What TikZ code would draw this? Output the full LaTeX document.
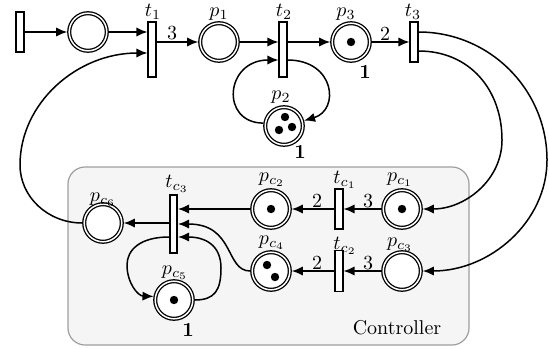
\documentclass[tikz,border=0pt]{standalone}
\usetikzlibrary{arrows.meta,calc}
\begin{document}
\begin{tikzpicture}[x=0.5pt,y=-0.5pt,
  place/.style={circle,draw,double,line width=0.65pt,double distance=0.75pt,fill=white,inner sep=0pt,minimum size=18.8pt,outer sep=1pt},
  trans/.style={rectangle,draw,line width=0.95pt,fill=white,inner sep=0pt,minimum width=3.6pt},
  arc/.style={line width=0.75pt,-{Latex[length=5.5pt,width=4.6pt]}},
  tok/.style={circle,fill,inner sep=0pt,minimum size=4.2pt},
  lbl/.style={inner sep=0pt},
]
\useasboundingbox (0,0) rectangle (549,348);
% controller box
\draw[draw=black!38,fill=black!4,line width=0.6pt,rounded corners=8.5pt] (68,167) rectangle (469,345);
\node[lbl] (ctrl) at (397,328) {Controller};

% plant
\node[trans,minimum height=20pt] (t0) at (20,32) {};
\node[place] (pa) at (88,32) {};
\node[trans,minimum height=27.5pt] (t1) at (152,49.5) {};
\node[place] (p1) at (219,42) {};
\node[trans,minimum height=27.5pt] (t2) at (283,49.5) {};
\node[place] (p3) at (351,42) {};
\node[tok] (k3) at (351,42) {};
\node[trans,minimum height=20pt] (t3) at (414,42) {};
\node[place] (p2) at (284,126) {};
\node[tok] (k2a) at (285,117) {};
\node[tok] (k2b) at (279,130) {};
\node[tok] (k2c) at (292,127) {};

% controller
\node[place] (pc1) at (402,209) {};
\node[tok] (kc1) at (402,209) {};
\node[trans,minimum height=20pt] (tc1) at (339,209) {};
\node[place] (pc2) at (271,209) {};
\node[tok] (kc2) at (271,209) {};
\node[place] (pc3) at (402,271) {};
\node[trans,minimum height=20.5pt] (tc2) at (339,271) {};
\node[place] (pc4) at (271,271) {};
\node[tok] (kc4a) at (267,265) {};
\node[tok] (kc4b) at (275,277) {};
\node[trans,minimum height=29pt] (tc3) at (173.5,224) {};
\node[place] (pc6) at (103,223) {};
\node[place] (pc5) at (174,300) {};
\node[tok] (kc5) at (174,300) {};

% labels
\node[lbl] (lt1) at (153,12) {$t_1$};
\node[lbl] (lp1) at (219,14) {$p_1$};
\node[lbl] (lt2) at (284,12) {$t_2$};
\node[lbl] (lp3) at (346,14) {$p_3$};
\node[lbl] (lt3) at (413,12) {$t_3$};
\node[lbl] (lp2) at (281,97) {$p_2$};
\node[lbl] (m3) at (365,72) {$\mathbf{1}$};
\node[lbl] (m2) at (300,152) {$\mathbf{1}$};
\node[lbl] (w1) at (172,33) {$3$};
\node[lbl] (w3) at (385,34) {$2$};

\node[lbl] (lpc1) at (400,180) {$p_{c_1}$};
\node[lbl] (ltc1) at (345,180) {$t_{c_1}$};
\node[lbl] (lpc2) at (272,180) {$p_{c_2}$};
\node[lbl] (lpc3) at (400,245) {$p_{c_3}$};
\node[lbl] (ltc2) at (345,246) {$t_{c_2}$};
\node[lbl] (lpc4) at (272,243) {$p_{c_4}$};
\node[lbl] (ltc3) at (177,184) {$t_{c_3}$};
\node[lbl] (lpc6) at (103,200) {$p_{c_6}$};
\node[lbl] (lpc5) at (175,273) {$p_{c_5}$};
\node[lbl] (m5) at (188,330) {$\mathbf{1}$};
\node[lbl] (wc1) at (368,201) {$3$};
\node[lbl] (wc2) at (317,201) {$2$};
\node[lbl] (wc3) at (368,263) {$3$};
\node[lbl] (wc4) at (317,263) {$2$};

% coordinates
\coordinate (t1in) at ($(t1.west)+(0,3.5)$);
\coordinate (t2in) at ($(t2.west)+(0,10.5)$);
\coordinate (t2out) at ($(t2.east)+(0,10.5)$);
\coordinate (t3a) at ($(t3.east)+(0,-10)$);
\coordinate (t3b) at ($(t3.east)+(0,9)$);
\coordinate (tc3in) at ($(tc3.east)+(0,13)$);
\coordinate (tc3out) at ($(tc3.west)+(0,13)$);

% plant arcs
\draw[arc] (t0) -- (pa);
\draw[arc] (pa) -- (pa -| t1.west);
\draw[arc] (t1.east |- p1) -- (p1);
\draw[arc] (p1) -- (p1 -| t2.west);
\draw[arc] (t2.east |- p3) -- (p3);
\draw[arc] (p3) -- (t3);
\draw[arc] (p2.172) .. controls (220,123) and (225,60) .. (t2in);
\draw[arc] (t2out) .. controls (335,60) and (340,110) .. (p2.15);
\draw[arc] (t3b) .. controls (470,51) and (502,90) .. (502,140) .. controls (502,180) and (465,209) .. (pc1.east);
\draw[arc] (t3a) .. controls (490,32) and (547,90) .. (547,160) .. controls (547,222) and (490,271) .. (pc3.east);

% controller arcs
\draw[arc] (pc1) -- (pc1 -| tc1.east);
\draw[arc] (tc1.west |- pc2) -- (pc2);
\draw[arc] (pc3) -- (pc3 -| tc2.east);
\draw[arc] (tc2.west |- pc4) -- (pc4);
\draw[arc] (pc2) -- (pc2 -| tc3.east);
\draw[arc] (pc4.west) .. controls (225,271) and (235,224) .. (tc3.east);
\draw[arc] (tc3.west |- pc6) -- (pc6);
\draw[arc] (tc3out) .. controls (140,237) and (127,250) .. (127,265) .. controls (127,283) and (138,296) .. (pc5.170);
\draw[arc] (pc5.east) .. controls (215,300) and (221,290) .. (221,268) .. controls (221,245) and (205,237) .. (tc3in);
\draw[arc] (pc6.west) .. controls (48,223) and (20,197) .. (20,165) .. controls (20,103) and (77,53) .. (t1in);
\end{tikzpicture}
\end{document}
